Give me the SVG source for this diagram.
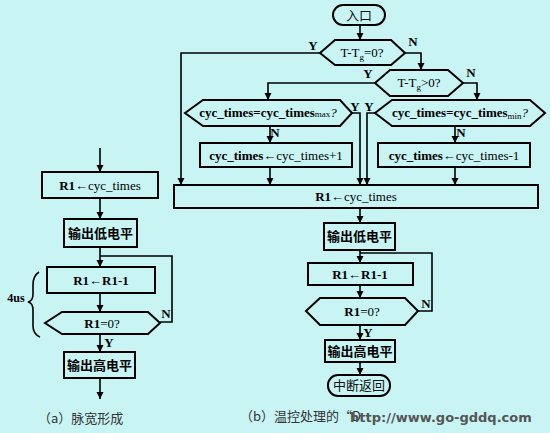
<svg xmlns="http://www.w3.org/2000/svg" width="550" height="433" viewBox="0 0 550 433">
<defs>
<marker id="ah" markerUnits="userSpaceOnUse" markerWidth="8" markerHeight="8" refX="7" refY="3.5" orient="auto">
<path d="M0,0 L7,3.5 L0,7 z" fill="#000"/>
</marker>
<style>
.bx{fill:none;stroke:#000;stroke-width:2}
.ln{fill:none;stroke:#000;stroke-width:1.6}
.ar{fill:none;stroke:#000;stroke-width:1.6;marker-end:url(#ah)}
.t{font-family:"Liberation Serif","Times New Roman",serif;font-size:13px;fill:#000;text-anchor:middle}
.b{font-weight:bold}
.lb{font-family:"Liberation Serif",serif;font-size:13px;font-weight:bold;fill:#000;text-anchor:middle}
.cn{font-family:"Noto Sans CJK SC","Noto Sans",sans-serif;font-size:13px;font-weight:bold;fill:#000;text-anchor:middle}
.cr{font-family:"Noto Sans CJK SC","Noto Sans",sans-serif;font-size:13px;fill:#111;text-anchor:middle}
.cap{font-family:"Noto Sans CJK SC","Noto Sans",sans-serif;font-size:13px;fill:#333}
</style>
</defs>
<rect width="550" height="433" fill="#c8f4f4"/>

<g id="connectors">
<!-- left chart -->
<line class="ar" x1="100" y1="148" x2="100" y2="172"/>
<line class="ar" x1="100" y1="198" x2="100" y2="219"/>
<line class="ar" x1="100" y1="247" x2="100" y2="267"/>
<polyline class="ln" points="160,322 172,322 172,256 100,256"/>
<line class="ar" x1="100" y1="293" x2="100" y2="312"/>
<line class="ar" x1="100" y1="334" x2="100" y2="352"/>
<line class="ar" x1="100" y1="378" x2="100" y2="399"/>
<!-- right chart -->
<line class="ar" x1="360" y1="25" x2="360" y2="40"/>
<polyline class="ar" points="320,53 181,53 181,185"/>
<polyline class="ar" points="405,53 421,53 421,70"/>
<polyline class="ar" points="375,83 268,83 268,100"/>
<polyline class="ar" points="463,83 477,83 477,100"/>
<polyline class="ar" points="352,113 360,113 360,185"/>
<polyline class="ar" points="375,113 367,113 367,185"/>
<line class="ar" x1="270" y1="126" x2="270" y2="143"/>
<line class="ar" x1="270" y1="167" x2="270" y2="185"/>
<line class="ar" x1="455" y1="126" x2="455" y2="143"/>
<line class="ar" x1="455" y1="167" x2="455" y2="185"/>
<line class="ar" x1="360" y1="208" x2="360" y2="223"/>
<line class="ar" x1="360" y1="250" x2="360" y2="263"/>
<polyline class="ln" points="418,311 432,311 432,253 360,253"/>
<line class="ar" x1="360" y1="285" x2="360" y2="298"/>
<line class="ar" x1="360" y1="325" x2="360" y2="340"/>
<line class="ar" x1="360" y1="362" x2="360" y2="375"/>
</g>

<!-- left chart nodes -->
<g id="a_r1">
<rect class="bx" x="42" y="172" width="116" height="26"/>
<text class="t" x="100" y="190"><tspan class="b">R1</tspan>←cyc_times</text>
</g>
<g id="a_low">
<rect class="bx" x="64" y="219" width="73" height="28"/>
<text class="cn" x="100.5" y="238">输出低电平</text>
</g>
<g id="a_dec">
<rect class="bx" x="47" y="267" width="108" height="26"/>
<text class="t b" x="101" y="285">R1←R1-1</text>
</g>
<g id="a_test">
<polygon class="bx" points="45,323 62,312 148,312 160,323 148,334 62,334"/>
<text class="t" x="102" y="328"><tspan class="b">R1</tspan>=0?</text>
<text class="lb" x="166" y="318">N</text>
<text class="lb" x="109" y="347">Y</text>
</g>
<g id="a_high">
<rect class="bx" x="64" y="352" width="71" height="26"/>
<text class="cn" x="99.5" y="370">输出高电平</text>
</g>
<g id="a_brace">
<path class="ln" d="M39,272 Q33,276 33,285 L33,294 Q33,301 28,302 Q33,303 33,310 L33,326 Q33,334 40,337"/>
<text class="lb" x="16" y="302" style="font-size:12px">4us</text>
</g>

<!-- right chart nodes -->
<g id="b_entry">
<rect class="bx" x="333" y="5" width="52" height="20" rx="10"/>
<text class="cr" x="359" y="20">入口</text>
</g>
<g id="b_eq0">
<polygon class="bx" points="320,53 335,40 391,40 405,53 391,65 335,65"/>
<text class="t" x="362" y="57">T-T<tspan dy="3" font-size="9">g</tspan><tspan dy="-3">=0?</tspan></text>
<text class="lb" x="313" y="50">Y</text>
<text class="lb" x="413" y="46">N</text>
</g>
<g id="b_gt0">
<polygon class="bx" points="375,83 390,70 448,70 463,83 448,96 390,96"/>
<text class="t" x="419" y="87">T-T<tspan dy="3" font-size="9">g</tspan><tspan dy="-3">&gt;0?</tspan></text>
<text class="lb" x="368" y="78">Y</text>
<text class="lb" x="471" y="77">N</text>
</g>
<g id="b_max">
<polygon class="bx" points="185,113 203,100 340,100 352,113 340,126 203,126"/>
<text class="t b" x="268" y="117">cyc_times=cyc_times<tspan font-size="9" font-weight="normal">max</tspan><tspan font-weight="normal" font-style="italic">?</tspan></text>
<text class="lb" x="355" y="111">Y</text>
<text class="lb" x="275" y="137">N</text>
</g>
<g id="b_min">
<polygon class="bx" points="375,113 392,100 530,100 545,113 530,126 392,126"/>
<text class="t b" x="460" y="117">cyc_times=cyc_times<tspan font-size="9" dy="2" font-weight="normal">min</tspan><tspan dy="-2" font-weight="normal" font-style="italic">?</tspan></text>
<text class="lb" x="369" y="111">Y</text>
<text class="lb" x="461" y="137">N</text>
</g>
<g id="b_inc">
<rect class="bx" x="200" y="143" width="152" height="24"/>
<text class="t" x="276" y="160"><tspan class="b">cyc_times</tspan>←cyc_times+1</text>
</g>
<g id="b_dec1">
<rect class="bx" x="378" y="143" width="152" height="24"/>
<text class="t" x="454" y="160"><tspan class="b">cyc_times</tspan>←cyc_times-1</text>
</g>
<g id="b_r1">
<rect class="bx" x="174" y="185" width="364" height="23"/>
<text class="t" x="356" y="201"><tspan class="b">R1</tspan>←cyc_times</text>
</g>
<g id="b_low">
<rect class="bx" x="324" y="223" width="71" height="27"/>
<text class="cn" x="359.5" y="241">输出低电平</text>
</g>
<g id="b_dec">
<rect class="bx" x="308" y="263" width="105" height="22"/>
<text class="t b" x="360" y="279">R1←R1-1</text>
</g>
<g id="b_test">
<polygon class="bx" points="306,311 320,298 405,298 418,311 405,325 320,325"/>
<text class="t" x="362" y="316"><tspan class="b">R1</tspan>=0?</text>
<text class="lb" x="426" y="308">N</text>
<text class="lb" x="368" y="337">Y</text>
</g>
<g id="b_high">
<rect class="bx" x="325" y="340" width="70" height="22"/>
<text class="cn" x="360" y="356">输出高电平</text>
</g>
<g id="b_ret">
<rect class="bx" x="328" y="375" width="62" height="21" rx="10"/>
<text class="cr" x="359" y="390">中断返回</text>
</g>

<!-- captions -->
<text class="cap" x="38" y="423">（a）脉宽形成</text>
<text class="cap" x="240" y="421">（b）温控处理的“D</text>
<text x="350" y="422" style="font-family:'DejaVu Sans',sans-serif;font-size:13px;font-weight:bold;fill:#555">http://www.go-gddq.com</text>
</svg>
